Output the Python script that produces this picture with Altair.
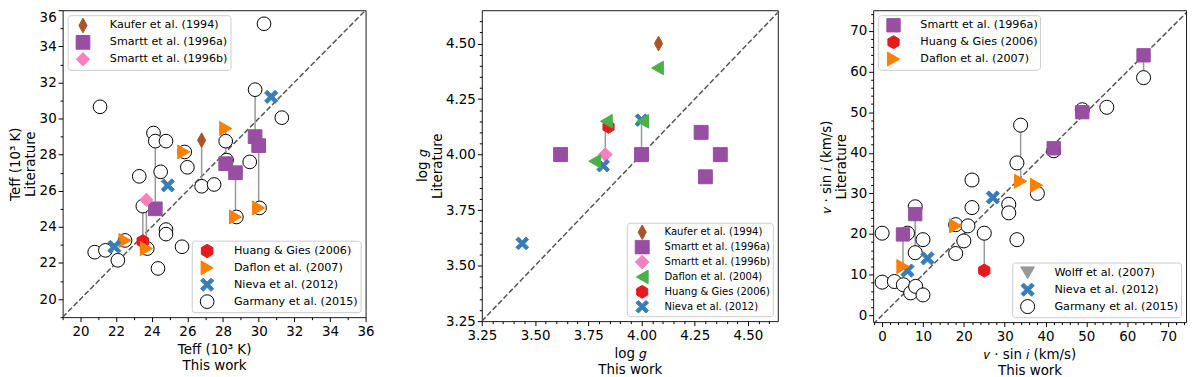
import json
import altair as alt
import pandas as pd

FONT = "DejaVu Sans"

# ---------------- source names ----------------
KAU = "Kaufer et al. (1994)"
SMA = "Smartt et al. (1996a)"
SMB = "Smartt et al. (1996b)"
DAF04 = "Daflon et al. (2004)"
HUA = "Huang & Gies (2006)"
DAF07 = "Daflon et al. (2007)"
WOL = "Wolff et al. (2007)"
NIE = "Nieva et al. (2012)"
GAR = "Garmany et al. (2015)"

# ---------------- Panel 1: Teff (10^3 K) ----------------
t_kau_x = [26.8]
t_kau_y = [28.8]
t_sma_x = [24.2, 28.15, 28.7, 29.8, 30.0]
t_sma_y = [25.0, 27.5, 27.0, 29.0, 28.5]
t_smb_x = [23.7]
t_smb_y = [25.5]
t_hua_x = [23.5]
t_hua_y = [23.2]
t_daf07_x = [22.5, 23.7, 25.8, 28.15, 28.7, 30.0]
t_daf07_y = [23.25, 22.8, 28.15, 29.45, 24.55, 25.05]
t_nie_x = [21.9, 24.9, 30.7]
t_nie_y = [22.9, 26.3, 31.2]
t_gar_x = [20.8, 21.4, 22.1, 21.1, 22.5, 23.3, 23.5, 23.75, 24.1, 24.2, 24.35, 24.5,
           24.8, 24.8, 24.8, 25.7, 25.85, 26.0, 26.8, 27.5, 28.15, 28.2, 28.75, 29.5,
           29.8, 30.05, 30.3, 31.3]
t_gar_y = [22.6, 22.7, 22.15, 30.65, 23.25, 26.8, 25.15, 22.8, 29.2, 28.75, 21.7, 27.05,
           28.75, 23.85, 23.6, 22.9, 28.15, 27.3, 26.25, 26.35, 28.75, 27.7, 24.55, 27.6,
           31.6, 25.05, 35.25, 30.05]
t_link_x = [23.5, 23.7, 24.2, 26.8, 28.15, 28.7, 29.8, 30.0]
t_link_lo = [23.2, 22.8, 25.0, 26.25, 27.5, 24.55, 29.0, 25.05]
t_link_hi = [25.15, 25.5, 28.75, 28.8, 29.45, 27.0, 31.6, 28.5]
t_domain = [19, 36]
t_major = [20, 22, 24, 26, 28, 30, 32, 34, 36]
t_minor = [19, 21, 23, 25, 27, 29, 31, 33, 35]

# ---------------- Panel 2: log g ----------------
g_kau_x = [4.08]
g_kau_y = [4.50]
g_sma_x = [3.62, 4.00, 4.28, 4.30, 4.37]
g_sma_y = [4.00, 4.00, 4.10, 3.90, 4.00]
g_smb_x = [3.83]
g_smb_y = [4.00]
g_daf04_x = [4.075, 3.835, 3.78, 4.005]
g_daf04_y = [4.39, 4.15, 3.97, 4.15]
g_hua_x = [3.845]
g_hua_y = [4.125]
g_nie_x = [3.44, 3.82, 4.00]
g_nie_y = [3.60, 3.95, 4.155]
g_link_x = [3.83, 4.00]
g_link_lo = [4.00, 4.00]
g_link_hi = [4.125, 4.15]
g_domain_x = [3.25, 4.64]
g_domain_y = [3.25, 4.65]
g_major = [3.25, 3.5, 3.75, 4.0, 4.25, 4.5]
g_minor = [3.3, 3.35, 3.4, 3.45, 3.55, 3.6, 3.65, 3.7, 3.8, 3.85, 3.9, 3.95,
           4.05, 4.1, 4.15, 4.2, 4.3, 4.35, 4.4, 4.45, 4.55, 4.6]

# ---------------- Panel 3: v sin i (km/s) ----------------
v_sma_x = [5.1, 8.1, 42.0, 49.0, 64.0]
v_sma_y = [19.9, 24.9, 41.1, 50.0, 64.0]
v_hua_x = [25.0]
v_hua_y = [11.0]
v_daf07_x = [5.1, 18.0, 33.9, 37.8]
v_daf07_y = [12.0, 22.0, 33.0, 32.0]
v_nie_x = [6.2, 11.1, 27.1]
v_nie_y = [11.0, 14.0, 29.0]
v_gar_x = [0, 0, 3, 5.2, 6.2, 7, 8.1, 8.1, 8.2, 10, 10, 18, 18, 20, 21, 22, 22, 25,
           31, 31, 33, 33, 33.9, 38, 42, 49, 55, 64]
v_gar_y = [20.2, 8.15, 8.3, 7.5, 20.2, 5.5, 26.7, 15.4, 7.1, 18.6, 5.0, 22.3, 15.2,
           18.3, 22.0, 33.3, 26.5, 20.2, 27.3, 25.2, 37.5, 18.6, 46.8, 30.0, 40.5,
           50.6, 51.2, 58.5]
v_link_x = [5.1, 8.1, 25.0, 33.9, 42.0, 49.0, 64.0]
v_link_lo = [12.0, 15.4, 11.0, 33.0, 40.5, 50.0, 58.5]
v_link_hi = [19.9, 26.7, 20.2, 46.8, 41.1, 50.6, 64.0]
v_domain_x = [-2.2, 74.4]
v_domain_y = [-1.7, 75.1]
v_major = [0, 10, 20, 30, 40, 50, 60, 70]
v_minor = [-2, 2, 4, 6, 8, 12, 14, 16, 18, 22, 24, 26, 28, 32, 34, 36, 38, 42, 44,
           46, 48, 52, 54, 56, 58, 62, 64, 66, 68, 72, 74]

# ---------------- marker styles ----------------
SHAPE = {
    KAU: "M0,-1.05L0.58,0L0,1.05L-0.58,0Z",
    SMA: "square",
    SMB: "diamond",
    DAF04: "triangle-left",
    HUA: "M0,-0.95L0.823,-0.475L0.823,0.475L0,0.95L-0.823,0.475L-0.823,-0.475Z",
    DAF07: "triangle-right",
    WOL: "triangle-down",
    NIE: "M-0.95,-0.57L-0.57,-0.95L0,-0.38L0.57,-0.95L0.95,-0.57L0.38,0L0.95,0.57L0.57,0.95L0,0.38L-0.57,0.95L-0.95,0.57L-0.38,0Z",
    GAR: "circle",
}
SIZE = {KAU: 200, SMA: 180, SMB: 230, DAF04: 190, HUA: 200, DAF07: 190, WOL: 190,
        NIE: 200, GAR: 165}
FILL = {KAU: "#a65628", SMA: "#984ea3", SMB: "#f781bf", DAF04: "#4daf4a",
        HUA: "#e41a1c", DAF07: "#ff7f00", WOL: "#999999", NIE: "#377eb8", GAR: "#ffffff"}
STROKE = dict(FILL)
STROKE[GAR] = "#000000"


def frame(groups):
    rows = []
    for src, xs, ys in groups:
        for x, y in zip(xs, ys):
            rows.append({"src": src, "x": x, "y": y})
    return pd.DataFrame(rows)


def make_axis(major, minor, fmt, title, pad, lpad, lh, top_value=None):
    vals = sorted(major + minor)
    test = "indexof(" + json.dumps(major) + ", datum.value) >= 0"
    kw = {}
    if top_value is not None:
        kw["labelBaseline"] = {"condition": {"test": "datum.value == %s" % top_value, "value": "top"},
                               "value": "middle"}
    return alt.Axis(values=vals, format=fmt, title=title, titlePadding=pad, labelPadding=lpad,
                    titleLineHeight=lh,
                    labelExpr=test + " ? datum.label : ''",
                    tickSize={"condition": {"test": test, "value": 4.5}, "value": 2.5}, **kw)


def encodings(dx, dy, major, minor, fmt, name, top_value=None):
    X = alt.X("x:Q", scale=alt.Scale(domain=dx, nice=False, zero=False),
              axis=make_axis(major, minor, fmt, [name, "This work"], 5.5, 2.5, 16))
    Y = alt.Y("y:Q", scale=alt.Scale(domain=dy, nice=False, zero=False),
              axis=make_axis(major, minor, fmt, [name, "Literature"], 1.5, 2, 15, top_value))
    return X, Y


def point_layer(df, domain, orient, X, Y, fsize, loff, clip_h):
    leg = alt.Legend(title=None, orient=orient, direction="vertical", columns=1,
                     offset=5, padding=2, symbolOffset=5.5,
                     labelOffset=loff, labelFont=FONT, labelFontSize=fsize,
                     rowPadding=0, clipHeight=clip_h,
                     strokeColor="#cccccc", fillColor="rgba(255,255,255,0.85)",
                     cornerRadius=3, symbolStrokeWidth=1,
                     labelExpr="datum.label + '\u00a0\u00a0\u00a0'")
    def sc(table):
        return alt.Scale(domain=domain, range=[table[s] for s in domain])
    return alt.Chart(df).mark_point(filled=True, opacity=1, strokeWidth=1).encode(
        x=X, y=Y,
        shape=alt.Shape("src:N", scale=sc(SHAPE), legend=leg),
        fill=alt.Fill("src:N", scale=sc(FILL), legend=leg),
        stroke=alt.Stroke("src:N", scale=sc(STROKE), legend=leg),
        size=alt.Size("src:N", scale=sc(SIZE), legend=leg),
    )


def base_layers(diag_dom, links, X, Y):
    diag = alt.Chart(pd.DataFrame({"x": diag_dom, "y": diag_dom})).mark_line(
        color="#555555", strokeWidth=1.5, strokeDash=[5.5, 2.4], clip=True).encode(x=X, y=Y)
    lx, lo, hi = links
    rules = alt.Chart(pd.DataFrame({"x": lx, "y": lo, "y2": hi})).mark_rule(
        color="#999999", strokeWidth=1.5).encode(x=X, y=Y, y2=alt.Y2("y2:Q"))
    return diag, rules


RES = dict(shape="independent", fill="independent", stroke="independent", size="independent")

# ---------------- Panel 1 ----------------
X1, Y1 = encodings(t_domain, t_domain, t_major, t_minor, "d", "Teff (10³ K)", top_value=36)
d1, r1 = base_layers(t_domain, (t_link_x, t_link_lo, t_link_hi), X1, Y1)
p1_br = frame([(GAR, t_gar_x, t_gar_y), (HUA, t_hua_x, t_hua_y),
               (DAF07, t_daf07_x, t_daf07_y), (NIE, t_nie_x, t_nie_y)])
p1_tl = frame([(KAU, t_kau_x, t_kau_y), (SMA, t_sma_x, t_sma_y), (SMB, t_smb_x, t_smb_y)])
p1 = alt.layer(
    d1, r1,
    point_layer(p1_br, [HUA, DAF07, NIE, GAR], "bottom-right", X1, Y1, 11.25, 19, 16.7),
    point_layer(p1_tl, [KAU, SMA, SMB], "top-left", X1, Y1, 11.25, 19, 16.7),
).resolve_scale(**RES).properties(width=305, height=309)

# ---------------- Panel 2 ----------------
X2, Y2 = encodings(g_domain_x, g_domain_y, g_major, g_minor, ".2f", "log 𝑔")
d2, r2 = base_layers([3.25, 4.65], (g_link_x, g_link_lo, g_link_hi), X2, Y2)
p2_df = frame([(SMA, g_sma_x, g_sma_y), (SMB, g_smb_x, g_smb_y), (NIE, g_nie_x, g_nie_y),
               (HUA, g_hua_x, g_hua_y), (DAF04, g_daf04_x, g_daf04_y), (KAU, g_kau_x, g_kau_y)])
p2 = alt.layer(
    d2, r2,
    point_layer(p2_df, [KAU, SMA, SMB, DAF04, HUA, NIE], "bottom-right", X2, Y2, 10.1, 14.5, 15),
).resolve_scale(**RES).properties(width=298, height=313)

# ---------------- Panel 3 ----------------
X3, Y3 = encodings(v_domain_x, v_domain_y, v_major, v_minor, "d", "𝑣 · sin 𝑖 (km/s)")
d3, r3 = base_layers([-2.2, 75.1], (v_link_x, v_link_lo, v_link_hi), X3, Y3)
p3_br = frame([(GAR, v_gar_x, v_gar_y), (NIE, v_nie_x, v_nie_y)])
p3_tl = frame([(SMA, v_sma_x, v_sma_y), (HUA, v_hua_x, v_hua_y), (DAF07, v_daf07_x, v_daf07_y)])
p3 = alt.layer(
    d3, r3,
    point_layer(p3_br, [WOL, NIE, GAR], "bottom-right", X3, Y3, 11.25, 19, 16.7),
    point_layer(p3_tl, [SMA, HUA, DAF07], "top-left", X3, Y3, 11.25, 19, 16.3),
).resolve_scale(**RES).properties(width=315, height=314)

inner = alt.hconcat(p2, p3, spacing=96, bounds="flush")
chart = alt.hconcat(p1, inner, spacing=117, bounds="flush").properties(
    autosize=alt.AutoSizeParams(type="none"),
    padding={"left": 55, "top": 1, "right": 1137, "bottom": 368},
).configure_view(stroke="#1a1a1a", strokeWidth=1).configure_axis(
    labelFont=FONT, labelFontSize=13.5, labelColor="black", titleFont=FONT,
    titleFontSize=13.5, titleFontWeight="normal", titleColor="black", tickColor="black",
    tickWidth=1, domain=False, grid=False, labelOverlap=False, labelFlush=False,
)

chart.save("out.html", embed_options={"renderer": "svg", "actions": False})
